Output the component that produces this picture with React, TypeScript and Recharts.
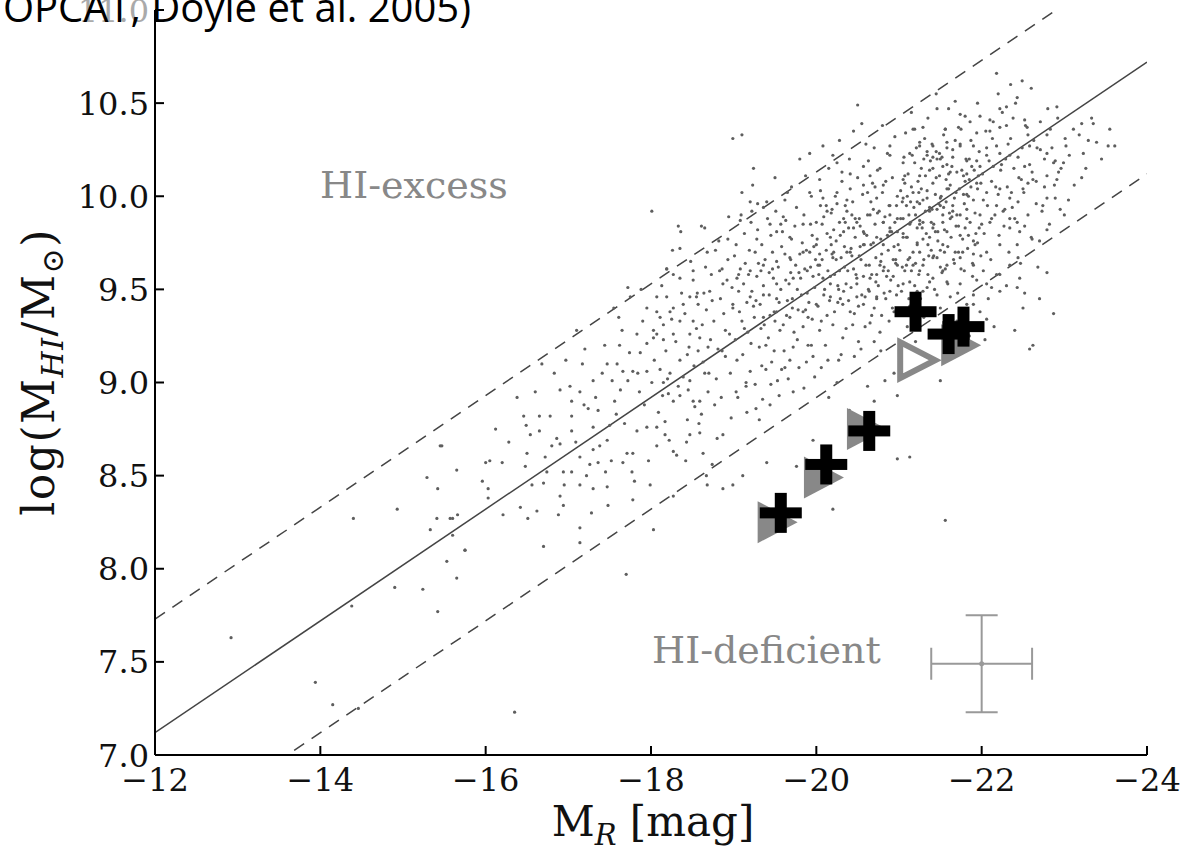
import React from 'react';
import { ScatterChart, Scatter, XAxis, YAxis, ReferenceLine, ErrorBar } from 'recharts';

const xTicks = [-24, -22, -20, -18, -16, -14, -12];
const yTicks = [7, 7.5, 8, 8.5, 9, 9.5, 10, 10.5, 11];

// scaling relation + the +-0.6 dex band (values at M=-12 and M=-24)
const relationM = [-12, -24];
const relationLog = [7.12, 10.72];
const upperLog = [7.73, 11.33];
const lowerLog = [6.52, 10.12];

// HIPASS/HOPCAT comparison sample
const faintDots: number[][] = [
  [-12.92, 7.63], [-13.94, 7.39], [-14.15, 7.27], [-14.46, 7.25], [-14.4, 8.27], [-14.93, 8.32],
  [-14.9, 7.9], [-15.24, 7.89], [-15.42, 7.77], [-15.47, 8.66], [-15.29, 8.49], [-15.42, 8.43],
  [-15.41, 8.27], [-15.33, 8.21], [-15.6, 8.27], [-15.65, 8.53], [-15.6, 8.18], [-15.75, 8.1],
  [-15.53, 8.04], [-15.65, 7.95], [-15.96, 8.47], [-16.03, 8.38], [-16.0, 8.57], [-16.35, 7.23],
  [-14.38, 7.8], [-15.57, 8.27], [-15.66, 8.29], [-16.05, 8.58], [-16.2, 8.57], [-16.03, 8.43],
  [-16.21, 8.29], [-16.7, 8.12], [-17.14, 8.14], [-15.75, 8.1], [-17.7, 7.97], [-15.45, 8.66],
];

const midDots: number[][] = [
  [-16.9, 8.96], [-16.38, 8.92], [-16.46, 8.82], [-16.65, 8.82], [-16.78, 8.82], [-16.49, 8.77],
  [-16.54, 8.72], [-16.65, 8.74], [-16.86, 8.7], [-16.8, 8.66], [-16.9, 8.67], [-16.5, 8.62],
  [-17.04, 8.9], [-17.04, 8.82], [-17.04, 8.74], [-17.14, 8.95], [-17.19, 8.88], [-17.24, 8.86],
  [-17.36, 8.85], [-17.3, 9.01], [-17.41, 9.05], [-17.47, 9.1], [-17.59, 9.1], [-17.53, 9.01],
  [-17.63, 8.96], [-17.66, 9.06], [-17.72, 9.01], [-17.78, 9.06], [-17.84, 9.05], [-17.95, 9.06],
  [-18.01, 9.0], [-17.72, 9.51], [-17.75, 9.46], [-17.95, 9.4], [-17.83, 9.26], [-17.87, 9.16],
  [-17.95, 9.21], [-18.03, 9.28], [-18.07, 9.38], [-18.19, 9.61], [-18.19, 9.46], [-18.27, 9.58],
  [-17.3, 8.76], [-17.5, 8.77], [-17.47, 8.69], [-17.3, 8.64], [-17.14, 8.6], [-17.26, 8.56],
  [-17.36, 8.57], [-16.94, 8.52], [-17.04, 8.52], [-16.74, 8.52], [-16.7, 8.46], [-16.56, 8.45],
  [-16.42, 8.33], [-16.51, 8.27], [-16.62, 8.31], [-16.9, 8.39], [-16.94, 8.34], [-17.14, 8.45],
  [-17.14, 8.22], [-17.3, 8.43], [-17.47, 8.44], [-17.48, 8.34], [-17.66, 8.57], [-17.78, 8.62],
  [-17.77, 8.52], [-17.78, 8.37], [-17.71, 8.62], [-17.83, 8.74], [-17.95, 8.76], [-18.07, 8.76],
  [-18.17, 8.72], [-18.17, 8.79], [-18.07, 8.66], [-18.27, 8.63], [-18.31, 8.61], [-18.03, 8.21],
  [-18.27, 8.39], [-18.35, 8.93], [-18.27, 8.9], [-18.51, 8.9], [-18.53, 8.87], [-18.44, 8.8],
  [-18.47, 8.72], [-18.59, 8.73], [-18.61, 8.83], [-18.63, 8.62], [-18.67, 8.5], [-18.35, 9.12],
  [-18.44, 9.15], [-18.57, 9.17], [-18.59, 9.24], [-18.47, 9.26], [-18.27, 9.26], [-18.15, 9.23],
  [-18.07, 9.26], [-18.35, 9.33], [-18.51, 9.33], [-18.56, 9.48], [-18.47, 9.46], [-18.51, 9.55],
  [-18.35, 9.56], [-18.27, 9.4], [-18.15, 9.31], [-18.03, 9.24], [-18.23, 9.05], [-18.15, 9.0],
  [-18.11, 9.07], [-18.21, 8.94], [-18.39, 9.03], [-18.47, 9.01], [-18.59, 8.9], [-18.65, 9.05],
  [-18.69, 9.19], [-18.01, 9.92], [-18.33, 9.84], [-18.65, 9.83], [-18.35, 9.72], [-18.19, 9.61],
  [-18.51, 9.6], [-18.86, 9.61], [-18.99, 10.31], [-19.1, 10.33], [-18.71, 9.49], [-18.55, 9.46],
  [-18.39, 9.42], [-18.23, 9.38], [-18.07, 9.46], [-18.11, 9.35], [-18.74, 8.56], [-18.68, 8.45],
  [-18.87, 8.43], [-18.99, 8.45], [-19.11, 8.5], [-19.4, 8.57], [-19.76, 8.55], [-19.96, 8.69],
  [-20.2, 8.32], [-20.98, 8.59], [-21.13, 8.6], [-21.56, 8.26], [-20.98, 8.93], [-20.83, 9.01],
  [-21.5, 9.01], [-22.06, 9.34], [-22.12, 9.51], [-17.58, 8.83], [-17.92, 8.88], [-18.42, 8.58],
  [-16.28, 8.68], [-16.12, 8.75], [-17.2, 9.18], [-17.65, 9.28], [-16.97, 9.12], [-18.8, 8.7],
  [-16.6, 8.95], [-16.72, 8.6], [-16.83, 9.05], [-16.95, 8.45], [-17.02, 8.98], [-17.09, 8.68],
  [-17.17, 9.1], [-17.22, 8.5], [-17.33, 8.92], [-17.38, 8.66], [-17.44, 9.2], [-17.52, 8.58],
  [-17.56, 8.9], [-17.61, 9.35], [-17.68, 8.78], [-17.74, 9.16], [-17.8, 8.47], [-17.86, 8.95],
  [-17.9, 9.33], [-17.97, 8.58], [-16.48, 8.55], [-16.68, 9.1], [-16.88, 8.29], [-17.1, 9.28],
  [-17.28, 8.3], [-17.45, 8.52], [-17.62, 9.2], [-17.88, 9.5], [-17.99, 8.45], [-17.55, 9.4],
];

const coreDots: number[][] = [
  [-19.2, 9.97], [-19.29, 9.96], [-19.08, 9.87], [-19.28, 9.77], [-19.44, 9.85], [-19.52, 9.81],
  [-19.6, 9.89], [-19.68, 9.78], [-19.84, 9.85], [-20.0, 9.86], [-20.13, 9.92], [-20.25, 9.96],
  [-20.37, 9.92], [-20.08, 9.99], [-19.92, 10.02], [-20.04, 10.09], [-20.31, 10.13], [-20.25, 10.18],
  [-20.41, 10.12], [-20.57, 10.16], [-20.65, 10.11], [-20.77, 10.15], [-20.89, 10.22], [-21.05, 10.18],
  [-20.89, 10.27], [-21.17, 10.36], [-21.25, 10.29], [-21.34, 10.24], [-21.46, 10.2], [-21.53, 10.16],
  [-21.58, 10.26], [-21.56, 10.36], [-21.41, 10.21], [-21.05, 10.09], [-20.81, 10.06], [-20.57, 10.06],
  [-20.41, 10.04], [-20.25, 10.02], [-20.73, 9.99], [-20.89, 9.95], [-21.05, 9.99], [-21.22, 9.97],
  [-21.37, 9.94], [-21.5, 9.99], [-21.53, 9.9], [-21.29, 9.86], [-21.13, 9.85], [-20.98, 9.88],
  [-20.81, 9.86], [-20.65, 9.9], [-20.49, 9.86], [-20.33, 9.81], [-20.17, 9.78], [-20.0, 9.74],
  [-19.84, 9.7], [-19.68, 9.67], [-19.52, 9.65], [-19.36, 9.63], [-19.2, 9.6], [-19.04, 9.56],
  [-18.87, 9.53], [-18.99, 9.42], [-19.2, 9.46], [-19.36, 9.47], [-19.52, 9.53], [-19.72, 9.56],
  [-19.89, 9.6], [-20.04, 9.63], [-20.2, 9.67], [-20.41, 9.7], [-20.57, 9.74], [-20.73, 9.78],
  [-20.89, 9.81], [-21.05, 9.78], [-21.22, 9.74], [-21.37, 9.78], [-21.53, 9.74], [-21.46, 9.67],
  [-21.29, 9.63], [-21.13, 9.67], [-20.98, 9.63], [-20.81, 9.6], [-20.65, 9.56], [-20.49, 9.53],
  [-20.33, 9.49], [-20.17, 9.46], [-20.0, 9.42], [-19.84, 9.38], [-19.68, 9.35], [-19.52, 9.38],
  [-19.36, 9.35], [-20.41, 9.38], [-20.57, 9.42], [-20.73, 9.46], [-20.89, 9.49], [-21.05, 9.53],
  [-21.22, 9.49], [-21.37, 9.54], [-21.53, 9.6], [-20.5, 10.49], [-20.55, 10.39], [-19.92, 10.23],
  [-18.62, 9.31], [-18.66, 9.62], [-18.7, 9.05], [-18.74, 9.44], [-18.78, 9.71], [-18.81, 9.18],
  [-18.85, 8.92], [-18.88, 9.37], [-18.92, 9.55], [-18.95, 9.26], [-18.97, 8.81], [-19.01, 9.68],
  [-19.04, 9.12], [-19.06, 9.49], [-19.1, 9.33], [-19.13, 9.8], [-19.15, 8.98], [-19.18, 9.58],
  [-19.21, 9.21], [-19.24, 9.41], [-19.27, 8.86], [-19.3, 9.64], [-19.33, 9.29], [-19.36, 9.52],
  [-19.39, 9.07], [-19.41, 9.88], [-19.44, 9.36], [-19.47, 9.61], [-19.49, 9.17], [-19.52, 9.45],
  [-19.55, 8.93], [-19.58, 9.73], [-19.6, 9.31], [-19.63, 9.55], [-19.66, 9.02], [-19.69, 9.66],
  [-19.71, 9.4], [-19.74, 9.84], [-19.77, 9.23], [-19.79, 9.59], [-19.82, 9.47], [-19.85, 8.97],
  [-19.88, 9.71], [-19.9, 9.35], [-19.93, 9.62], [-19.96, 9.14], [-19.98, 9.51], [-18.64, 9.48],
  [-18.72, 9.23], [-18.83, 9.6], [-18.9, 9.14], [-18.99, 9.4], [-19.08, 9.61], [-19.16, 9.43],
  [-19.26, 9.7], [-19.34, 9.09], [-19.43, 9.59], [-19.5, 9.33], [-19.57, 9.85], [-19.65, 9.44],
  [-19.72, 9.19], [-19.8, 9.69], [-19.87, 9.39], [-19.95, 9.79], [-20.02, 9.63], [-20.04, 9.28],
  [-20.07, 9.85], [-20.09, 9.47], [-20.12, 9.71], [-20.14, 9.12], [-20.17, 9.57], [-20.19, 9.93],
  [-20.22, 9.38], [-20.24, 9.66], [-20.27, 9.5], [-20.29, 9.79], [-20.32, 9.24], [-20.34, 9.62],
  [-20.37, 9.98], [-20.39, 9.44], [-20.42, 9.72], [-20.44, 9.31], [-20.47, 9.88], [-20.49, 9.56],
  [-20.52, 9.68], [-20.54, 9.18], [-20.57, 9.81], [-20.59, 9.46], [-20.62, 10.02], [-20.64, 9.63],
  [-20.67, 9.36], [-20.69, 9.75], [-20.72, 9.54], [-20.74, 9.91], [-20.77, 9.27], [-20.79, 9.69],
  [-20.82, 9.48], [-20.84, 10.08], [-20.87, 9.6], [-20.89, 9.83], [-20.92, 9.4], [-20.94, 9.73],
  [-20.97, 9.95], [-20.99, 9.52], [-20.05, 9.95], [-20.13, 9.36], [-20.21, 9.82], [-20.28, 9.6],
  [-20.36, 9.53], [-20.43, 9.9], [-20.51, 9.41], [-20.58, 9.74], [-20.66, 9.97], [-20.73, 9.58],
  [-20.81, 9.86], [-20.88, 9.33], [-20.96, 9.66], [-20.08, 9.56], [-20.18, 9.74], [-20.26, 9.43],
  [-20.35, 9.86], [-20.45, 9.61], [-20.53, 9.84], [-20.63, 9.5], [-20.71, 10.05], [-20.78, 9.65],
  [-20.86, 9.79], [-20.93, 9.57], [-20.98, 9.81], [-19.62, 9.08], [-19.94, 9.2], [-20.3, 9.15],
  [-20.7, 9.22], [-19.45, 8.99], [-19.03, 8.95], [-18.93, 9.77], [-19.22, 9.92], [-19.7, 10.05],
];

const brightDots: number[][] = [
  [-22.18, 10.66], [-22.49, 10.62], [-22.43, 10.53], [-21.68, 10.51], [-21.46, 10.47], [-22.22, 10.47],
  [-22.3, 10.48], [-22.8, 10.47], [-22.91, 10.48], [-21.98, 10.43], [-22.1, 10.41], [-21.86, 10.4],
  [-21.74, 10.44], [-22.38, 10.42], [-22.52, 10.41], [-22.55, 10.37], [-22.22, 10.37], [-22.3, 10.38],
  [-22.1, 10.35], [-21.94, 10.34], [-21.72, 10.37], [-21.56, 10.36], [-21.29, 10.37], [-21.19, 10.36],
  [-23.11, 10.36], [-23.21, 10.39], [-23.35, 10.39], [-23.55, 10.36], [-23.01, 10.31], [-23.29, 10.3],
  [-23.39, 10.29], [-23.53, 10.27], [-23.61, 10.27], [-23.23, 10.23], [-22.79, 10.23], [-22.87, 10.18],
  [-22.99, 10.18], [-22.93, 10.13], [-23.21, 10.1], [-22.58, 10.27], [-22.67, 10.26], [-22.34, 10.22],
  [-22.22, 10.23], [-22.06, 10.26], [-21.9, 10.27], [-21.74, 10.28], [-21.58, 10.29], [-21.41, 10.27],
  [-21.25, 10.27], [-21.13, 10.23], [-21.34, 10.22], [-21.5, 10.2], [-21.65, 10.21], [-21.82, 10.19],
  [-21.98, 10.16], [-22.14, 10.16], [-22.52, 10.16], [-22.62, 10.09], [-22.56, 10.07], [-22.79, 10.11],
  [-22.91, 10.09], [-22.74, 9.95], [-22.79, 9.99], [-22.89, 9.99], [-23.05, 9.98], [-22.5, 10.04],
  [-22.34, 9.99], [-22.22, 10.04], [-22.18, 9.95], [-22.26, 9.92], [-22.34, 9.88], [-22.44, 9.97],
  [-22.12, 9.88], [-22.0, 9.85], [-21.82, 9.88], [-21.65, 9.92], [-21.5, 9.95], [-21.34, 9.99],
  [-21.17, 10.02], [-21.07, 10.07], [-21.25, 10.11], [-21.41, 10.15], [-21.62, 10.13], [-21.78, 10.11],
  [-21.94, 10.07], [-22.06, 10.02], [-21.82, 10.01], [-21.58, 10.04], [-22.34, 9.83], [-22.46, 9.81],
  [-22.6, 9.78], [-22.7, 9.76], [-22.79, 9.82], [-22.43, 9.74], [-22.22, 9.74], [-22.06, 9.7],
  [-21.9, 9.76], [-21.74, 9.79], [-21.58, 9.81], [-21.41, 9.83], [-21.25, 9.85], [-21.09, 9.78],
  [-21.25, 9.7], [-21.41, 9.67], [-21.58, 9.63], [-21.74, 9.67], [-21.9, 9.63], [-22.02, 9.6],
  [-22.18, 9.58], [-22.34, 9.63], [-22.44, 9.67], [-22.46, 9.56], [-22.52, 9.48], [-22.43, 9.51],
  [-22.79, 9.59], [-22.87, 9.37], [-22.22, 9.49], [-22.06, 9.53], [-21.9, 9.47], [-21.82, 9.42],
  [-21.98, 9.38], [-21.74, 9.53], [-21.58, 9.54], [-21.41, 9.56], [-21.25, 9.6], [-21.09, 9.63],
  [-21.13, 9.54], [-21.29, 9.49], [-21.46, 9.47], [-21.62, 9.46], [-21.68, 9.7], [-22.58, 9.18],
  [-22.04, 9.23], [-21.02, 9.88], [-21.04, 9.62], [-21.07, 10.11], [-21.12, 9.45], [-21.14, 9.97],
  [-21.17, 9.7], [-21.19, 10.18], [-21.22, 9.83], [-21.24, 9.58], [-21.27, 10.04], [-21.29, 9.77],
  [-21.32, 9.92], [-21.34, 9.51], [-21.37, 10.14], [-21.39, 9.86], [-21.42, 9.68], [-21.44, 10.01],
  [-21.47, 9.81], [-21.49, 10.23], [-21.52, 9.59], [-21.54, 9.94], [-21.57, 10.09], [-21.59, 9.73],
  [-21.62, 9.88], [-21.64, 10.16], [-21.67, 9.64], [-21.69, 10.02], [-21.72, 9.84], [-21.74, 10.27],
  [-21.77, 9.7], [-21.79, 9.96], [-21.82, 10.12], [-21.84, 9.79], [-21.87, 10.05], [-21.89, 9.57],
  [-21.92, 9.91], [-21.94, 10.19], [-21.97, 9.83], [-21.99, 10.07], [-21.05, 9.8], [-21.15, 9.6],
  [-21.25, 9.96], [-21.35, 9.74], [-21.45, 10.1], [-21.55, 9.82], [-21.65, 9.95], [-21.75, 9.61],
  [-21.85, 10.2], [-21.95, 9.75], [-21.1, 10.0], [-21.2, 9.9], [-21.3, 10.2], [-21.4, 9.93],
  [-21.5, 9.71], [-21.6, 10.04], [-21.7, 9.9], [-21.8, 10.08], [-21.9, 9.69], [-21.11, 9.66],
  [-22.02, 9.98], [-22.06, 10.22], [-22.1, 9.86], [-22.13, 10.31], [-22.17, 10.05], [-22.21, 9.79],
  [-22.24, 10.17], [-22.28, 9.93], [-22.32, 10.28], [-22.36, 10.02], [-22.4, 9.88], [-22.44, 10.21],
  [-22.48, 10.09], [-22.52, 9.84], [-22.56, 10.33], [-22.61, 10.13], [-22.66, 9.96], [-22.71, 10.25],
  [-22.76, 10.05], [-22.83, 10.36], [-22.89, 10.19], [-22.95, 9.93], [-23.02, 10.27], [-22.62, 9.2],
];

// the crowded part of the cloud, M between -18 and -23.5
const denseDots: number[][] = [
  [-18.04, 9.12], [-18.09, 8.84], [-18.13, 9.52], [-18.18, 9.17], [-18.22, 8.69], [-18.26, 9.71],
  [-18.3, 9.22], [-18.33, 8.98], [-18.37, 9.48], [-18.41, 9.37], [-18.45, 8.96], [-18.48, 9.65],
  [-18.52, 9.09], [-18.55, 9.29], [-18.58, 8.78], [-18.61, 9.84], [-18.63, 9.11], [-18.67, 9.39],
  [-18.69, 8.95], [-18.73, 9.58], [-18.76, 9.33], [-18.79, 9.02], [-18.82, 9.76], [-18.84, 9.45],
  [-18.87, 8.72], [-18.9, 9.28], [-18.93, 9.66], [-18.96, 9.05], [-18.98, 9.51], [-18.14, 8.93],
  [-18.25, 9.34], [-18.36, 9.81], [-18.46, 9.19], [-18.57, 9.42], [-18.68, 9.7], [-18.77, 8.88],
  [-18.86, 9.17], [-18.94, 9.89], [-18.2, 9.02], [-18.43, 8.68],
  [-19.02, 9.23], [-19.03, 9.74], [-19.05, 8.92], [-19.07, 9.38], [-19.09, 9.9], [-19.11, 9.15],
  [-19.12, 9.53], [-19.14, 9.64], [-19.16, 8.84], [-19.17, 9.27], [-19.19, 9.71], [-19.2, 9.06],
  [-19.22, 9.49], [-19.23, 10.06], [-19.25, 9.35], [-19.26, 8.99], [-19.28, 9.57], [-19.29, 9.82],
  [-19.31, 9.19], [-19.32, 9.42], [-19.34, 9.74], [-19.35, 8.91], [-19.37, 9.31], [-19.38, 9.66],
  [-19.4, 9.97], [-19.42, 9.24], [-19.43, 9.47], [-19.45, 9.79], [-19.46, 9.11], [-19.48, 9.56],
  [-19.49, 9.38], [-19.51, 9.92], [-19.53, 9.01], [-19.54, 9.62], [-19.56, 9.28], [-19.57, 9.5],
  [-19.59, 9.81], [-19.61, 9.17], [-19.62, 9.69], [-19.64, 9.36], [-19.65, 10.02], [-19.67, 9.53],
  [-19.68, 9.12], [-19.7, 9.77], [-19.71, 9.45], [-19.73, 9.27], [-19.75, 9.63], [-19.76, 9.94],
  [-19.78, 9.39], [-19.79, 9.08], [-19.81, 9.56], [-19.83, 9.75], [-19.84, 9.3], [-19.86, 9.61],
  [-19.87, 10.11], [-19.89, 9.48], [-19.9, 9.2], [-19.92, 9.7], [-19.93, 9.85], [-19.95, 9.34],
  [-19.96, 9.57], [-19.98, 9.03], [-19.99, 9.66], [-19.06, 9.58], [-19.13, 9.29], [-19.21, 9.86],
  [-19.27, 9.44], [-19.33, 9.6], [-19.39, 9.2], [-19.47, 9.7], [-19.55, 9.43], [-19.63, 9.87],
  [-19.69, 9.59], [-19.77, 9.5], [-19.85, 9.9], [-19.91, 9.43], [-19.97, 9.73], [-19.15, 9.0],
  [-19.44, 8.88], [-19.72, 8.95], [-19.88, 9.11], [-19.58, 9.07], [-19.31, 8.8], [-19.24, 10.15],
  [-19.5, 10.1], [-19.8, 10.2], [-19.1, 10.02], [-19.36, 9.94], [-19.62, 9.98], [-19.94, 10.0],
  [-20.01, 9.77], [-20.02, 9.41], [-20.03, 9.58], [-20.05, 10.03], [-20.06, 9.33], [-20.07, 9.66],
  [-20.09, 9.89], [-20.1, 9.5], [-20.11, 9.2], [-20.13, 9.8], [-20.14, 9.6], [-20.15, 10.15],
  [-20.16, 9.44], [-20.18, 9.91], [-20.19, 9.69], [-20.2, 9.31], [-20.22, 9.58], [-20.23, 10.0],
  [-20.24, 9.76], [-20.26, 9.52], [-20.27, 9.12], [-20.28, 9.86], [-20.3, 9.67], [-20.31, 10.08],
  [-20.32, 9.42], [-20.34, 9.73], [-20.35, 9.95], [-20.36, 9.29], [-20.38, 9.6], [-20.39, 9.83],
  [-20.4, 10.2], [-20.42, 9.51], [-20.43, 9.68], [-20.44, 9.97], [-20.46, 9.37], [-20.47, 9.78],
  [-20.48, 9.58], [-20.5, 10.1], [-20.51, 9.22], [-20.52, 9.88], [-20.54, 9.66], [-20.55, 9.47],
  [-20.56, 10.01], [-20.58, 9.8], [-20.59, 9.3], [-20.6, 9.63], [-20.62, 9.9], [-20.63, 10.19],
  [-20.64, 9.49], [-20.66, 9.74], [-20.67, 9.58], [-20.68, 10.07], [-20.7, 9.4], [-20.71, 9.85],
  [-20.72, 9.67], [-20.74, 10.14], [-20.75, 9.52], [-20.76, 9.92], [-20.78, 9.77], [-20.79, 9.36],
  [-20.8, 10.02], [-20.82, 9.62], [-20.83, 9.89], [-20.84, 9.45], [-20.86, 10.23], [-20.87, 9.71],
  [-20.88, 9.95], [-20.9, 9.55], [-20.91, 9.81], [-20.92, 10.1], [-20.94, 9.38], [-20.95, 9.86],
  [-20.96, 9.64], [-20.98, 10.0], [-20.99, 9.74], [-20.04, 9.69], [-20.12, 9.95], [-20.17, 9.53],
  [-20.21, 9.7], [-20.29, 9.45], [-20.33, 9.88], [-20.37, 9.7], [-20.45, 9.83], [-20.49, 9.46],
  [-20.53, 9.73], [-20.57, 9.57], [-20.61, 9.79], [-20.65, 9.32], [-20.69, 9.93], [-20.73, 9.45],
  [-20.77, 9.63], [-20.81, 9.74], [-20.85, 9.57], [-20.89, 9.9], [-20.93, 9.66], [-20.97, 9.47],
  [-20.06, 9.08], [-20.25, 9.0], [-20.46, 9.14], [-20.62, 8.98], [-20.78, 9.17], [-20.94, 9.05],
  [-20.15, 8.92], [-20.4, 8.85], [-20.7, 8.9], [-20.08, 10.27], [-20.28, 10.3], [-20.45, 10.35],
  [-20.6, 10.28], [-20.8, 10.38], [-20.95, 10.32], [-20.2, 10.22], [-20.7, 10.26],
  [-21.01, 9.71], [-21.02, 10.03], [-21.03, 9.49], [-21.05, 9.88], [-21.06, 10.21], [-21.07, 9.6],
  [-21.09, 9.95], [-21.1, 9.78], [-21.11, 10.12], [-21.13, 9.41], [-21.14, 9.86], [-21.15, 10.05],
  [-21.17, 9.63], [-21.18, 9.94], [-21.19, 9.52], [-21.21, 10.26], [-21.22, 9.75], [-21.23, 10.08],
  [-21.25, 9.87], [-21.26, 9.45], [-21.27, 10.15], [-21.29, 9.98], [-21.3, 9.66], [-21.31, 10.31],
  [-21.33, 9.8], [-21.34, 10.03], [-21.35, 9.58], [-21.37, 9.92], [-21.38, 10.19], [-21.39, 9.71],
  [-21.41, 10.07], [-21.42, 9.85], [-21.43, 9.5], [-21.45, 10.24], [-21.46, 9.93], [-21.47, 9.76],
  [-21.49, 10.11], [-21.5, 9.62], [-21.51, 10.0], [-21.53, 9.86], [-21.54, 10.33], [-21.55, 9.7],
  [-21.57, 9.97], [-21.58, 10.17], [-21.59, 9.53], [-21.61, 9.91], [-21.62, 10.06], [-21.63, 9.78],
  [-21.65, 10.25], [-21.66, 9.66], [-21.67, 9.99], [-21.69, 9.84], [-21.7, 10.13], [-21.71, 9.48],
  [-21.73, 10.04], [-21.74, 9.9], [-21.75, 10.36], [-21.77, 9.77], [-21.78, 10.01], [-21.79, 9.6],
  [-21.81, 10.2], [-21.82, 9.93], [-21.83, 9.72], [-21.85, 10.09], [-21.86, 9.86], [-21.87, 10.3],
  [-21.89, 9.64], [-21.9, 9.98], [-21.91, 10.14], [-21.93, 9.8], [-21.94, 9.55], [-21.95, 10.04],
  [-21.97, 10.24], [-21.98, 9.9], [-21.99, 9.68], [-21.04, 9.97], [-21.08, 10.34], [-21.12, 9.9],
  [-21.16, 10.22], [-21.2, 9.64], [-21.24, 10.02], [-21.28, 9.83], [-21.32, 10.11], [-21.36, 9.68],
  [-21.4, 10.28], [-21.44, 9.81], [-21.48, 9.96], [-21.52, 10.21], [-21.56, 9.61], [-21.6, 10.12],
  [-21.64, 9.89], [-21.68, 10.3], [-21.72, 9.7], [-21.76, 10.14], [-21.8, 9.83], [-21.84, 10.0],
  [-21.88, 10.16], [-21.92, 9.74], [-21.96, 10.11], [-21.1, 9.3], [-21.3, 9.35], [-21.5, 9.4],
  [-21.7, 9.33], [-21.9, 9.42], [-21.2, 9.22], [-21.6, 9.18], [-21.85, 9.25], [-21.15, 10.45],
  [-21.35, 10.42], [-21.6, 10.47], [-21.8, 10.43], [-21.95, 10.5], [-21.45, 10.55],
  [-22.01, 10.12], [-22.03, 9.8], [-22.05, 10.35], [-22.07, 9.95], [-22.09, 10.19], [-22.11, 9.66],
  [-22.12, 10.08], [-22.14, 10.4], [-22.16, 9.9], [-22.18, 10.27], [-22.2, 10.01], [-22.22, 9.58],
  [-22.23, 10.14], [-22.25, 10.45], [-22.27, 9.84], [-22.29, 10.2], [-22.31, 10.05], [-22.33, 9.7],
  [-22.35, 10.31], [-22.37, 9.94], [-22.39, 10.15], [-22.41, 10.5], [-22.43, 9.86], [-22.45, 10.1],
  [-22.47, 9.64], [-22.49, 10.26], [-22.51, 10.02], [-22.53, 10.38], [-22.56, 9.9], [-22.58, 10.17],
  [-22.61, 9.77], [-22.63, 10.3], [-22.66, 10.08], [-22.68, 9.62], [-22.71, 10.4], [-22.73, 9.92],
  [-22.76, 10.2], [-22.79, 10.33], [-22.82, 9.85], [-22.85, 10.26], [-22.88, 10.06], [-22.92, 10.42],
  [-22.96, 10.15], [-23.0, 9.9], [-23.06, 10.22], [-23.12, 10.06], [-23.18, 10.33], [-23.26, 10.15],
  [-23.33, 10.42], [-23.45, 10.2], [-22.08, 9.45], [-22.3, 9.52], [-22.5, 9.4], [-22.7, 9.45],
  [-22.15, 9.3], [-22.4, 9.28], [-22.2, 10.55], [-22.6, 10.58], [-22.35, 10.6],
];

// this work: detections and upper limits
const plusM = [-19.57, -20.12, -20.64, -21.2, -21.6, -21.78];
const plusLog = [8.3, 8.56, 8.74, 9.38, 9.26, 9.3];
const triM = [-19.52, -20.08, -20.6, -21.74];
const triLog = [8.25, 8.49, 8.75, 9.2];
const openTriM = [-21.22];
const openTriLog = [9.12];

// typical error bar
const errM = [-22.0];
const errLog = [7.49];
const errDM = [0.61];
const errDLog = [0.26];

const toXY = (pts: number[][]) => pts.map(([x, y]) => ({ x, y }));
const allDots = toXY([...faintDots, ...midDots, ...coreDots, ...brightDots, ...denseDots]);
const plusData = plusM.map((x, i) => ({ x, y: plusLog[i] }));
const triData = triM.map((x, i) => ({ x, y: triLog[i] }));
const openTriData = openTriM.map((x, i) => ({ x, y: openTriLog[i] }));
const errData = errM.map((x, i) => ({ x, y: errLog[i], ex: errDM[i], ey: errDLog[i] }));

const serif = 'DejaVu Serif';
const fmt = (v: number, d: number) => (v < 0 ? '\u2212' : '') + Math.abs(v).toFixed(d);

const BottomTick = (p: any) => (
  <g>
    <line x1={p.x} x2={p.x} y1={p.y} y2={p.y - 9} stroke="#000" strokeWidth={2} />
    <text x={p.x} y={p.y + 36} textAnchor="middle" fontFamily={serif} fontSize={32} fill="#111">
      {fmt(p.payload.value, 0)}
    </text>
  </g>
);
const TopTick = (p: any) => (
  <line x1={p.x} x2={p.x} y1={p.y} y2={p.y + 9} stroke="#000" strokeWidth={2} />
);
const LeftTick = (p: any) => (
  <g>
    <line x1={p.x} x2={p.x + 9} y1={p.y} y2={p.y} stroke="#000" strokeWidth={2} />
    <text x={p.x - 6} y={p.y} dy="0.36em" textAnchor="end" fontFamily={serif} fontSize={32}
      fill={p.payload.value === 11 ? '#aaa' : '#111'}>
      {fmt(p.payload.value, 1)}
    </text>
  </g>
);
const RightTick = (p: any) => (
  <line x1={p.x} x2={p.x - 9} y1={p.y} y2={p.y} stroke="#000" strokeWidth={2} />
);

const Dot = (p: any) => <circle cx={p.cx} cy={p.cy} r={1.6} fill="#5e5e5e" />;
const Plus = (p: any) => (
  <g fill="#000">
    <rect x={p.cx - 21} y={p.cy - 5.5} width={42} height={11} />
    <rect x={p.cx - 6} y={p.cy - 20} width={12} height={40} />
  </g>
);
const Tri = (p: any) => (
  <polygon points={`${p.cx - 19},${p.cy - 21} ${p.cx - 19},${p.cy + 21} ${p.cx + 21},${p.cy}`} fill="#888" />
);
const OpenTri = (p: any) => (
  <polygon points={`${p.cx - 17},${p.cy - 18} ${p.cx - 17},${p.cy + 18} ${p.cx + 18},${p.cy}`}
    fill="none" stroke="#888" strokeWidth={6} />
);
const ErrCenter = (p: any) => <circle cx={p.cx} cy={p.cy} r={2.5} fill="#999" />;

export default function App() {
  return (
    <div style={{ position: 'absolute', left: 0, top: 0, width: 1190, height: 847, background: '#fff' }}>
      <ScatterChart width={1190} height={847} margin={{ top: 10, right: 43, bottom: 0, left: 0 }}>
        <XAxis xAxisId="b" type="number" dataKey="x" domain={[-24, -12]} reversed ticks={xTicks}
          height={92} tickSize={0} tickMargin={0} tickLine={false} tick={<BottomTick />}
          axisLine={{ stroke: '#000', strokeWidth: 2 }} allowDataOverflow />
        <XAxis xAxisId="t" orientation="top" type="number" dataKey="x" domain={[-24, -12]} reversed
          ticks={xTicks} height={0} tickSize={0} tickMargin={0} tickLine={false} tick={<TopTick />}
          axisLine={{ stroke: '#000', strokeWidth: 2 }} allowDataOverflow />
        <YAxis yAxisId="l" type="number" dataKey="y" domain={[7, 11]} ticks={yTicks} width={155}
          tickSize={0} tickMargin={0} tickLine={false} tick={<LeftTick />}
          axisLine={{ stroke: '#000', strokeWidth: 2 }} allowDataOverflow />
        <YAxis yAxisId="r" orientation="right" type="number" dataKey="y" domain={[7, 11]} ticks={yTicks}
          width={0} tickSize={0} tickMargin={0} tickLine={false} tick={<RightTick />}
          axisLine={{ stroke: '#000', strokeWidth: 2 }} allowDataOverflow />

        <Scatter xAxisId="b" yAxisId="l" data={allDots} shape={<Dot />} isAnimationActive={false} />

        <ReferenceLine xAxisId="b" yAxisId="l" ifOverflow="hidden" stroke="#444" strokeWidth={1.5}
          segment={[{ x: relationM[0], y: relationLog[0] }, { x: relationM[1], y: relationLog[1] }]} />
        <ReferenceLine xAxisId="b" yAxisId="l" ifOverflow="hidden" stroke="#444" strokeWidth={1.5}
          strokeDasharray="12 9"
          segment={[{ x: relationM[0], y: upperLog[0] }, { x: relationM[1], y: upperLog[1] }]} />
        <ReferenceLine xAxisId="b" yAxisId="l" ifOverflow="hidden" stroke="#444" strokeWidth={1.5}
          strokeDasharray="12 9"
          segment={[{ x: relationM[0], y: lowerLog[0] }, { x: relationM[1], y: lowerLog[1] }]} />

        <Scatter xAxisId="b" yAxisId="l" data={triData} shape={<Tri />} isAnimationActive={false} />
        <Scatter xAxisId="b" yAxisId="l" data={openTriData} shape={<OpenTri />} isAnimationActive={false} />
        <Scatter xAxisId="b" yAxisId="l" data={plusData} shape={<Plus />} isAnimationActive={false} />

        <Scatter xAxisId="b" yAxisId="l" data={errData} shape={<ErrCenter />} isAnimationActive={false}>
          <ErrorBar dataKey="ex" direction="x" width={16} stroke="#999" strokeWidth={2} isAnimationActive={false} />
          <ErrorBar dataKey="ey" direction="y" width={16} stroke="#999" strokeWidth={2} isAnimationActive={false} />
        </Scatter>
      </ScatterChart>

      <svg width={1190} height={847} style={{ position: 'absolute', left: 0, top: 0, pointerEvents: 'none' }}>
        <text x={320} y={198} fontFamily={serif} fontSize={38} fill="#888">HI-excess</text>
        <text x={652} y={663} fontFamily={serif} fontSize={38} fill="#888">HI-deficient</text>
        <text x={653} y={836} textAnchor="middle" fontFamily={serif} fontSize={42} fill="#111">
          M<tspan fontSize={29} fontStyle="italic" dy={9}>R</tspan>
          <tspan dy={-9}> [mag]</tspan>
        </text>
        <text transform="translate(54,372) rotate(-90)" textAnchor="middle" fontFamily={serif} fontSize={44}
          letterSpacing={1.5} fill="#111">
          log(M<tspan fontSize={30} fontStyle="italic" dy={9}>HI</tspan>
          <tspan dy={-9}>/M</tspan>
          <tspan fontSize={30} dy={9}>{'\u2299'}</tspan>
          <tspan dy={-9}>)</tspan>
        </text>
        <text x={471} y={22} textAnchor="end" fontFamily="Open Sans" fontSize={40} fill="#000">
          OPCAT, Doyle et al. 2005)
        </text>
      </svg>
    </div>
  );
}
